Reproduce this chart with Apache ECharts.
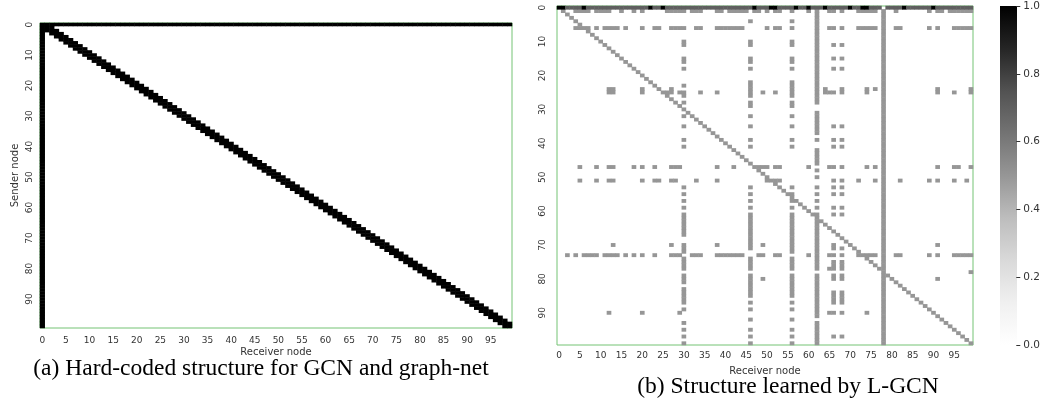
<!DOCTYPE html>
<html><head><meta charset="utf-8">
<script src="https://cdn.jsdelivr.net/npm/echarts/dist/echarts.min.js"></script>
<style>html,body{margin:0;padding:0;background:#fff}#c{width:1043px;height:402px}</style>
</head><body><div id="c"></div>
<script>
// ---------- categories / tick labels ----------
const nodes = Array.from({length: 100}, (_, i) => String(i));
const colorbarTicks = [0, 0.2, 0.4, 0.6, 0.8, 1.0];

// ---------- (a) hard-coded structure ----------
const hcHubNode = 0;              // sender row 0 and receiver column 0 fully connected
const hcBandOffsets = [-1, 0, 1]; // receiver offsets along the diagonal band (chain + self loop)
const hcWeight = 1.0;

// ---------- (b) learned structure ----------
const learnedWeight = 0.5;
const row0Weight = 0.7;
const row0DarkCols = [0, 1, 6, 22, 25, 47, 51, 52, 57, 60, 64, 70, 73, 74, 83, 90];
const row0EmptyCols = [78];
const diagWeight = 0.5;

const row1Cols = [4,5,6,7,9,10,11,12,15,18,20,26,27,28,29,30,32,33,34,38,39,41,42,43,44,45,47,48,50,52,53,56,60,65,66,68,72,73,74,75,76,81,89,91,92,94,95,96,97,98,99];
const row6Cols = [4,5,6,7,9,11,12,13,14,16,20,23,24,27,28,29,30,33,34,38,39,40,41,42,43,44,50,52,53,56,65,66,68,72,73,74,75,76,81,82,89,91,95,96,97,98,99];
const row24Cols = [12,13,20,27,64,68,74,76,91,99];
const row25Cols = [12,13,20,26,27,29,30,34,38,49,52,64,65,66,68,74,91,95,99];
const row47Cols = [5,9,12,13,18,20,23,27,28,29,38,42,48,49,50,52,53,60,65,66,68,74,76,91,95,96,99];
const row51Cols = [5,9,12,13,20,23,24,27,28,33,38,50,52,53,66,68,72,76,82,89,91,95,98];
const row70Cols = [13,27,38,49,91];
const row73Cols = [2,4,6,7,8,9,11,12,13,14,16,18,20,23,27,28,29,32,33,34,38,39,40,41,42,43,44,48,49,52,53,60,65,66,68,72,74,75,76,81,82,89,91,95,96,97,98,99];
const row77Cols = [65];
const row78Cols = [99];
const row80Cols = [49,91];
const row90Cols = [12,20,29,65,68,74];

const col30Rows = [10,11,15,16,18,23,25,26,28,32,35,39,41,53,55,57,59,61,62,63,64,65,66,67,70,71,72,74,75,76,77,79,80,81,83,84,85,86,87,89,93,95,97,99];
const col46Rows = [4,10,11,15,16,18,22,23,24,25,26,28,29,32,35,39,41,53,55,57,59,61,62,63,64,65,66,67,68,69,70,71,74,75,76,77,79,80,81,82,83,84,85,87,89,92,95,97,99];
const col56Rows = [4,10,11,15,16,18,22,23,24,25,26,28,29,32,35,39,41,53,55,57,59,61,62,63,64,65,66,67,68,69,70,71,72,74,75,76,77,79,80,81,82,83,84,85,87,89,92,95,97,99];
const col66Rows = [11,15,18,35,39,41,53,55,59,61,70,71,75,76,77,79,80,84,85,86,87,90,97];
const col68Rows = [11,15,18,35,39,41,53,55,59,61,71,75,76,77,79,80,84,85,86,87,90,97];
const col62Spans = [[1,28],[31,37],[39,39],[42,46],[48,48],[50,50],[53,53],[55,55],[57,57],[59,59],[61,77],[79,91],[93,99]];
const col78Spans = [[1,99]];

// ---------- build cell lists ----------
function makeStore() {
  const m = new Map();
  return {
    set(r, c, v) { if (r < 0 || c < 0 || r > 99 || c > 99) return; const k = r + ',' + c; if (!m.has(k) || m.get(k) < v) m.set(k, v); },
    del(r, c) { m.delete(r + ',' + c); },
    data() { const out = []; m.forEach((v, k) => { const [r, c] = k.split(',').map(Number); out.push([c, r, v]); }); return out; }
  };
}

const A = makeStore();
nodes.forEach((_, i) => { A.set(hcHubNode, i, hcWeight); A.set(i, hcHubNode, hcWeight); hcBandOffsets.forEach(o => A.set(i, i + o, hcWeight)); });

const B = makeStore();
nodes.forEach((_, i) => B.set(i, i, diagWeight));
const rowSets = [[1,row1Cols],[6,row6Cols],[24,row24Cols],[25,row25Cols],[47,row47Cols],[51,row51Cols],[70,row70Cols],[73,row73Cols],[77,row77Cols],[78,row78Cols],[80,row80Cols],[90,row90Cols]];
rowSets.forEach(([r, cols]) => cols.forEach(c => B.set(r, c, learnedWeight)));
const colSets = [[30,col30Rows],[46,col46Rows],[56,col56Rows],[66,col66Rows],[68,col68Rows]];
colSets.forEach(([c, rows]) => rows.forEach(r => B.set(r, c, learnedWeight)));
[[62,col62Spans],[78,col78Spans]].forEach(([c, spans]) => spans.forEach(([a, b]) => { for (let r = a; r <= b; r++) B.set(r, c, learnedWeight); }));
nodes.forEach((_, c) => B.set(0, c, row0Weight));
row0DarkCols.forEach(c => B.set(0, c, 1.0));
row0EmptyCols.forEach(c => B.del(0, c));

// ---------- chart ----------
const greys = ['#ffffff','#f0f0f0','#d9d9d9','#bdbdbd','#969696','#737373','#525252','#252525','#000000'];
const tickFont = 'DejaVu Sans';
const labelColor = '#333';
const gridBorder = '#74c374';

function catX(grid, margin) {
  return { gridIndex: grid, type: 'category', data: nodes, axisLine: {show: false}, axisTick: {show: false}, splitLine: {show: false},
    axisLabel: {interval: 4, fontSize: 9, color: labelColor, fontFamily: tickFont, margin: margin} };
}
function catY(grid, margin) {
  return { gridIndex: grid, type: 'category', data: nodes, inverse: true, axisLine: {show: false}, axisTick: {show: false}, splitLine: {show: false},
    axisLabel: {interval: 9, rotate: 90, fontSize: 9, color: labelColor, fontFamily: tickFont, margin: margin} };
}

const chart = echarts.init(document.getElementById('c'), null, {renderer: 'canvas'});
chart.setOption({
  animation: false,
  backgroundColor: '#fff',
  grid: [
    {left: 40, top: 23, width: 472, height: 305, show: true, borderColor: gridBorder, borderWidth: 1, backgroundColor: '#fff'},
    {left: 557, top: 6, width: 416, height: 339, show: true, borderColor: gridBorder, borderWidth: 1, backgroundColor: '#fff'},
    {left: 1000, top: 6, width: 17, height: 339, show: false}
  ],
  xAxis: [catX(0, 8), catX(1, 6), {gridIndex: 2, type: 'value', show: false, min: 0, max: 1}],
  yAxis: [catY(0, 6), catY(1, 10),
    {gridIndex: 2, type: 'value', min: colorbarTicks[0], max: colorbarTicks[colorbarTicks.length - 1], interval: 0.2, position: 'right',
     axisLine: {show: false, onZero: false, lineStyle: {color: '#333'}}, splitLine: {show: false},
     axisTick: {show: true, inside: false, length: 4, lineStyle: {color: '#333', width: 1}},
     axisLabel: {formatter: v => v.toFixed(1), margin: 7, fontSize: 10.5, color: labelColor, fontFamily: tickFont}}],
  visualMap: {type: 'continuous', show: false, min: 0, max: 1, seriesIndex: [0, 1], inRange: {color: greys}},
  series: [
    {type: 'heatmap', xAxisIndex: 0, yAxisIndex: 0, data: A.data(), itemStyle: {borderWidth: 0}},
    {type: 'heatmap', xAxisIndex: 1, yAxisIndex: 1, data: B.data(), itemStyle: {borderWidth: 0}},
    {type: 'line', xAxisIndex: 2, yAxisIndex: 2, data: []}
  ],
  graphic: [
    {type: 'rect', x: 1000, y: 6, shape: {width: 17, height: 339}, z: 0,
     style: {fill: new echarts.graphic.LinearGradient(0, 0, 0, 1, greys.slice().reverse().map((c, i) => ({offset: i / 8, color: c})))}},
    {type: 'text', x: 276, y: 352.5, style: {text: 'Receiver node', font: '10px "DejaVu Sans"', fill: labelColor, align: 'center', verticalAlign: 'middle'}},
    {type: 'text', x: 15, y: 175.5, rotation: Math.PI / 2, style: {text: 'Sender node', font: '10px "DejaVu Sans"', fill: labelColor, align: 'center', verticalAlign: 'middle'}},
    {type: 'text', x: 765, y: 371, style: {text: 'Receiver node', font: '10px "DejaVu Sans"', fill: labelColor, align: 'center', verticalAlign: 'middle'}},
    {type: 'text', x: 261, y: 369, style: {text: '(a) Hard-coded structure for GCN and graph-net', font: '23.5px "Liberation Serif"', fill: '#000', align: 'center', verticalAlign: 'middle'}},
    {type: 'text', x: 788, y: 387, style: {text: '(b) Structure learned by L-GCN', font: '23.5px "Liberation Serif"', fill: '#000', align: 'center', verticalAlign: 'middle'}}
  ]
});
</script></body></html>
